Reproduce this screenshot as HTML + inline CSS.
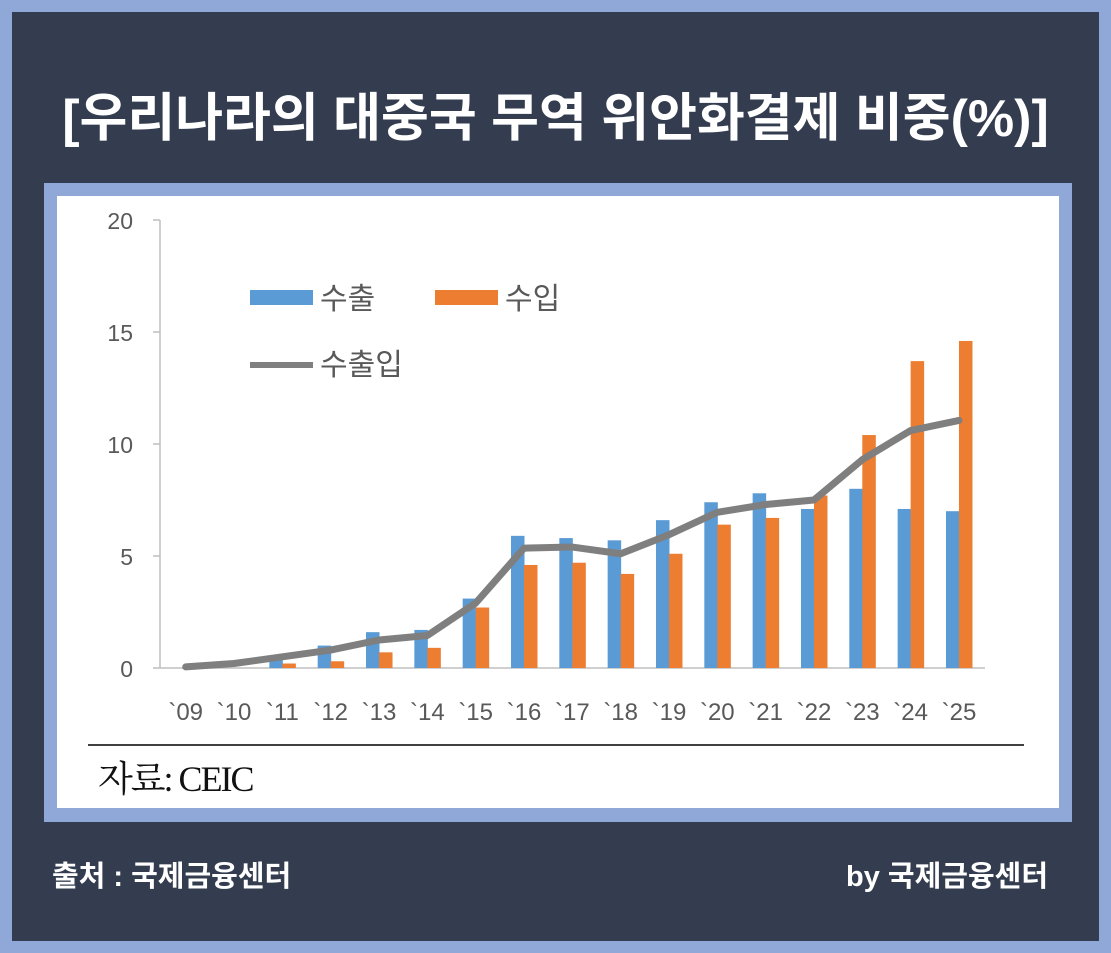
<!DOCTYPE html>
<html><head><meta charset="utf-8"><style>
body{margin:0;width:1111px;height:953px;overflow:hidden;background:#8fa8d8;font-family:"Liberation Sans","Noto Sans CJK KR",sans-serif}
#o{position:absolute;left:12px;top:12px;width:1087px;height:929px;background:#343d4f}
.t{position:absolute;color:#fff;font-weight:bold;white-space:nowrap}
</style></head><body>
<div id="o"></div>
<div class="t" style="left:0;width:1111px;text-align:center;top:84px;font-size:52px;line-height:70px">[우리나라의 대중국 무역 위안화결제 비중(%)]</div>
<div style="position:absolute;left:44px;top:183px;width:1028px;height:639px;background:#8fa8d8"></div>
<div style="position:absolute;left:57px;top:196px;width:1002px;height:612px;background:#fff"></div>
<svg style="position:absolute;left:0;top:0" width="1111" height="953" font-family="Liberation Sans, Noto Sans CJK KR, sans-serif">
<g fill="#595959" font-size="23" text-anchor="end">
<text x="133" y="229">20</text><text x="133" y="341">15</text><text x="133" y="453">10</text><text x="133" y="565">5</text><text x="133" y="677">0</text>
</g>
<g stroke="#bfbfbf" stroke-width="1.5"><line x1="160" y1="220" x2="160" y2="668"/><line x1="160" y1="668" x2="985" y2="668"/>
<line x1="153" y1="220" x2="160" y2="220"/><line x1="153" y1="332" x2="160" y2="332"/><line x1="153" y1="444" x2="160" y2="444"/><line x1="153" y1="556" x2="160" y2="556"/><line x1="153" y1="668" x2="160" y2="668"/></g>
<g id="bars"></g>
<polyline id="ln" fill="none" stroke="#7f7f7f" stroke-width="7" stroke-linejoin="round" stroke-linecap="round"/>
<g id="lbl" fill="#595959" font-size="24" text-anchor="middle"></g>
<rect x="250" y="290" width="63" height="15" fill="#5b9bd5"/><text x="320" y="309" font-size="30" fill="#595959">수출</text>
<rect x="435" y="290" width="63" height="15" fill="#ed7d31"/><text x="505" y="309" font-size="30" fill="#595959">수입</text>
<line x1="250" y1="365" x2="313" y2="365" stroke="#7f7f7f" stroke-width="6"/><text x="320" y="375" font-size="30" fill="#595959">수출입</text>
<line x1="88" y1="745" x2="1024" y2="745" stroke="#000" stroke-width="1.5"/>
<text x="98" y="791" font-size="36" fill="#111" font-family="Liberation Serif, Noto Serif CJK SC, serif" letter-spacing="-2">자료: CEIC</text>
</svg>
<div class="t" style="left:52px;top:853px;font-size:29px">출처 : 국제금융센터</div>
<div class="t" style="right:63px;top:853px;font-size:29px">by 국제금융센터</div>
<script>
var B=[0,0,0.55,1.0,1.6,1.7,3.1,5.9,5.8,5.7,6.6,7.4,7.8,7.1,8.0,7.1,7.0];
var O=[0,0,0.2,0.3,0.7,0.9,2.7,4.6,4.7,4.2,5.1,6.4,6.7,7.7,10.4,13.7,14.6];
var L=[0.05,0.2,0.5,0.8,1.25,1.45,2.9,5.35,5.4,5.1,5.95,6.95,7.3,7.5,9.3,10.6,11.05];
var ns="http://www.w3.org/2000/svg",g=document.getElementById('bars'),lb=document.getElementById('lbl'),pts=[];
function y(v){return 668-v*22.4}
for(var i=0;i<17;i++){var c=524+(i-7)*48.33;
[[B[i],c-13,'#5b9bd5'],[O[i],c,'#ed7d31']].forEach(function(a){if(a[0]>0){var r=document.createElementNS(ns,'rect');r.setAttribute('x',a[1]);r.setAttribute('width',13.5);r.setAttribute('y',y(a[0]));r.setAttribute('height',a[0]*22.4);r.setAttribute('fill',a[2]);g.appendChild(r);}});
pts.push(c+','+y(L[i]));
var t=document.createElementNS(ns,'text');t.setAttribute('x',c);t.setAttribute('y',720);t.textContent='`'+String(i+9).padStart(2,'0');lb.appendChild(t);}
document.getElementById('ln').setAttribute('points',pts.join(' '));
</script>
</body></html>
